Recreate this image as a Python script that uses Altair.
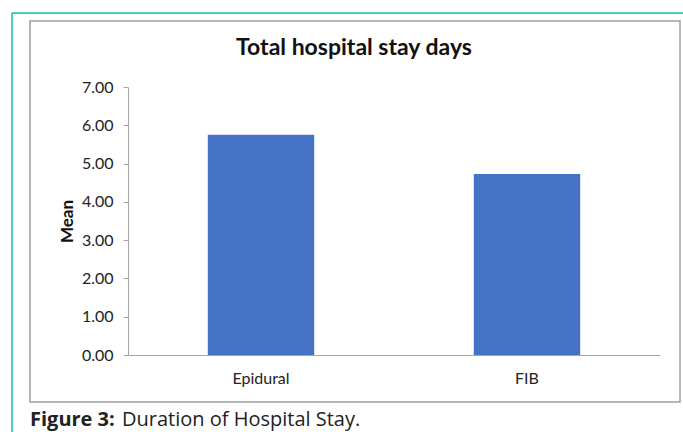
import altair as alt
import pandas as pd

groups = ["Epidural", "FIB"]
means = [5.75, 4.73]
y_ticks = [0, 1, 2, 3, 4, 5, 6, 7]

df = pd.DataFrame({"group": groups, "mean": means})

FONT = "Lato"
CAPFONT = "Open Sans"

base = alt.Chart(df)

bars = base.mark_bar(color="#4472C4").encode(
    x=alt.X("group:N", sort=groups,
            scale=alt.Scale(paddingInner=0.6, paddingOuter=0.3),
            axis=alt.Axis(title=None, labelAngle=0, ticks=False, domainColor="#a6a6a6",
                          labelFont=FONT, labelFontSize=16, labelColor="#222222",
                          labelPadding=15, zindex=1)),
    y=alt.Y("mean:Q",
            scale=alt.Scale(domain=[0, 7], nice=False),
            axis=alt.Axis(title="Mean", values=y_ticks, format=".2f", grid=False,
                          domainColor="#a6a6a6", tickColor="#a6a6a6", tickSize=5,
                          labelPadding=10, labelFont=FONT, labelFontSize=16,
                          labelColor="#222222", titleFont=FONT, titleFontSize=17,
                          titleFontWeight="bold", titleColor="#111111", titlePadding=5,
                          zindex=1)),
)

deco = pd.DataFrame({"k": [0]})
dbase = alt.Chart(deco)

# gray chart frame
frame = dbase.mark_rect(fillOpacity=0, stroke="#a0a0a0", strokeWidth=1.5).encode(
    x=alt.value(-98), x2=alt.value(552), y=alt.value(-66), y2=alt.value(315)
)
# teal outer lines
teal_top = dbase.mark_rule(color="#1abc9c", strokeWidth=1.5).encode(
    x=alt.value(-116), x2=alt.value(560), y=alt.value(-74)
)
teal_left = dbase.mark_rule(color="#1abc9c", strokeWidth=1.5).encode(
    x=alt.value(-116), y=alt.value(-74), y2=alt.value(350)
)

title = dbase.mark_text(text="Total hospital stay days", font=FONT, fontSize=23,
                        fontWeight="bold", color="#111111", align="center",
                        baseline="middle").encode(x=alt.value(226), y=alt.value(-39))

cap1 = dbase.mark_text(text="Figure 3:", font=CAPFONT, fontSize=20, fontWeight="bold",
                       color="#222222", align="left", baseline="alphabetic").encode(
    x=alt.value(-98), y=alt.value(339))
cap2 = dbase.mark_text(text="Duration of Hospital Stay.", font=CAPFONT, fontSize=20,
                       color="#222222", align="left", baseline="alphabetic").encode(
    x=alt.value(-6), y=alt.value(339))

chart = alt.layer(frame, teal_top, teal_left, bars, title, cap1, cap2).properties(
    width=532, height=268,
    autosize=alt.AutoSizeParams(type="none"),
    padding={"left": 128, "top": 87, "right": 23, "bottom": 77},
    background="white",
).configure_view(stroke=None)

chart.save("out.html", embed_options={"renderer": "svg", "actions": False})
